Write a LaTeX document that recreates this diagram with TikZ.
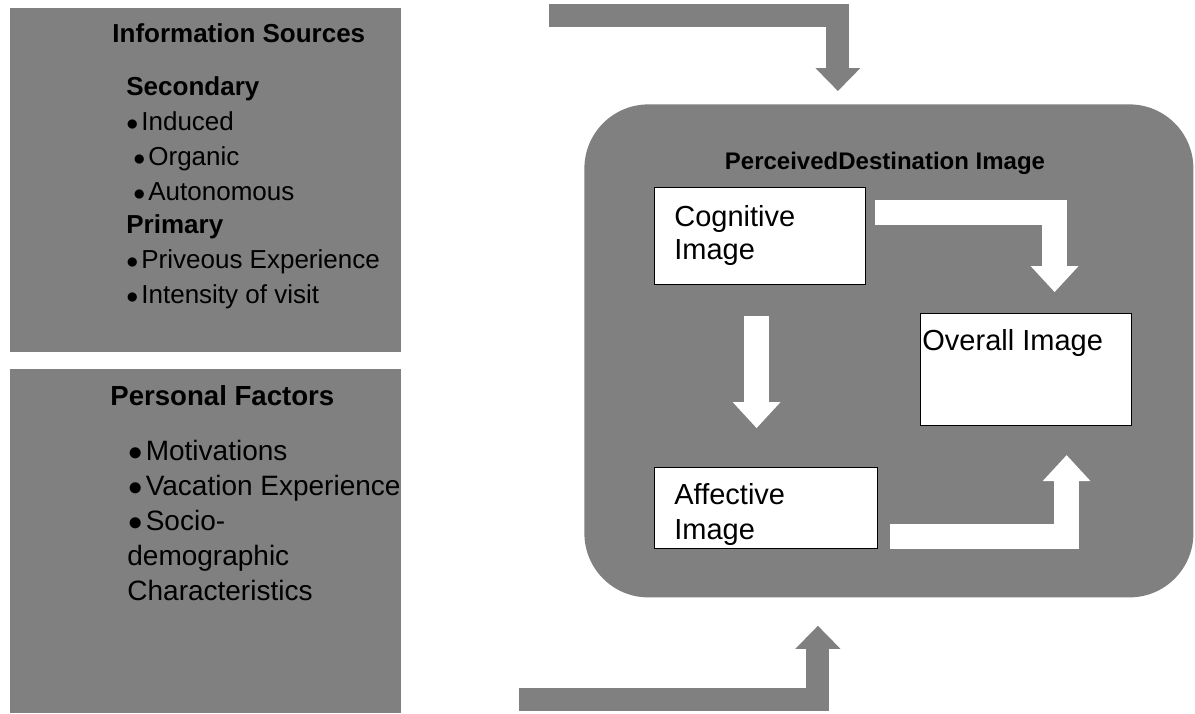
\documentclass[tikz,border=0pt]{standalone}
\usepackage{fontspec}
\setmainfont{Liberation Sans}
\usetikzlibrary{arrows.meta}
\definecolor{panelgray}{HTML}{808080}
\newcommand{\itemdot}{$\bullet$\hspace{1.5pt}}
\tikzset{
  panel/.style={
    fill=panelgray,
    anchor=north west,
    inner sep=0pt
  },
  imgbox/.style={
    draw=black,
    fill=white,
    line width=0.6pt,
    anchor=north west,
    inner sep=0pt
  },
  txt/.style={
    anchor=base west,
    inner sep=0pt,
    font=\fontsize{13}{15}\selectfont
  },
  headtxt/.style={
    txt,
    font=\fontsize{13}{15}\selectfont\bfseries
  },
  bigtxt/.style={
    txt,
    font=\fontsize{14}{16}\selectfont
  },
  boxtxt/.style={
    txt,
    font=\fontsize{14.5}{17}\selectfont
  },
  grayarrow/.style={
    draw=panelgray,
    line width=11.5pt,
    -{Triangle[width=22.5pt,length=11.5pt,line width=0pt]}
  },
  whitearrow/.style={
    draw=white,
    line width=12.5pt,
    -{Triangle[width=24pt,length=13pt,line width=0pt]}
  }
}
\begin{document}
\begin{tikzpicture}[x=0.5pt,y=-0.5pt]
\useasboundingbox (0,0) rectangle (1195,713);
% left panels
\node[panel, minimum width=195.5pt, minimum height=172pt] (infopanel) at (10,8) {};
\node[panel, minimum width=195.5pt, minimum height=172pt] (perspanel) at (10,369) {};
\node[headtxt] (infotitle) at (112,42) {Information Sources};
\node[headtxt] (secondary) at (126,95) {Secondary};
\node[txt] (induced) at (126,130) {\itemdot Induced};
\node[txt] (organic) at (133,165) {\itemdot Organic};
\node[txt] (autonomous) at (133,200) {\itemdot Autonomous};
\node[headtxt] (primary) at (126,233) {Primary};
\node[txt] (previous) at (126,268) {\itemdot Priveous Experience};
\node[txt] (intensity) at (126,303) {\itemdot Intensity of visit};
\node[headtxt, font=\fontsize{13.8}{16}\selectfont\bfseries] (perstitle) at (110,405) {Personal Factors};
\node[bigtxt] (motiv) at (128,460) {\itemdot Motivations};
\node[bigtxt] (vacation) at (128,495) {\itemdot Vacation Experience};
\node[bigtxt] (socio) at (128,530) {\itemdot Socio-};
\node[bigtxt] (demo) at (127,565) {demographic};
\node[bigtxt] (charac) at (127,600) {Characteristics};
% destination image
\node[panel, rounded corners=32pt, minimum width=304.5pt, minimum height=246.5pt] (pdi) at (584,104) {};
\node[anchor=base, inner sep=0pt, font=\fontsize{12}{14}\selectfont\bfseries] (pdititle) at (885,169) {PerceivedDestination Image};
\node[imgbox, minimum width=105.5pt, minimum height=48.5pt] (cog) at (654,187) {};
\node[imgbox, minimum width=111.5pt, minimum height=40.5pt] (aff) at (654,467) {};
\node[imgbox, minimum width=105.5pt, minimum height=56pt] (overall) at (920,313) {};
\node[boxtxt] (cogtxt) at (674,226) {Cognitive};
\node[boxtxt] (cogtxtb) at (674,259) {Image};
\node[boxtxt] (afftxt) at (674,504) {Affective};
\node[boxtxt] (afftxtb) at (674,539) {Image};
\node[boxtxt] (overalltxt) at (922,350) {Overall Image};
% arrows
\draw[whitearrow] ([xshift=-1.75pt,yshift=-15.5pt]cog.south) -- ([xshift=-4.75pt,yshift=19.5pt]aff.north);
\draw[whitearrow] ([xshift=4.5pt,yshift=11.75pt]cog.east) -| ([xshift=14.25pt,yshift=10.5pt]overall.north);
\draw[whitearrow] ([xshift=6pt,yshift=-14.25pt]aff.east) -| ([xshift=20.25pt,yshift=-14.5pt]overall.south);
\coordinate (topin) at (549,15.5);
\coordinate (botin) at (519,699.5);
\draw[grayarrow] (topin) -| ([xshift=-25.5pt,yshift=6.5pt]pdi.north);
\draw[grayarrow] (botin) -| ([xshift=-35.5pt,yshift=-14pt]pdi.south);
\end{tikzpicture}
\end{document}
